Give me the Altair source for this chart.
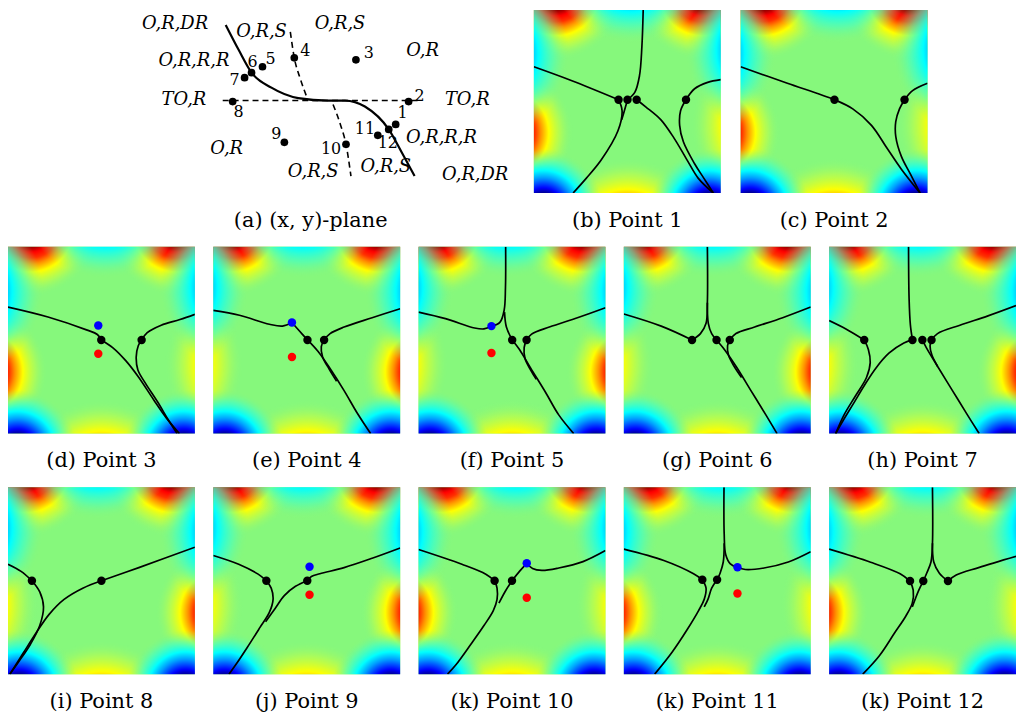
import altair as alt
import pandas as pd

SERIF = "DejaVu Serif"
GREEN = "#86f87c"
W = 188          # heat-map panel width
H_TOP = 184      # first-row panel height
H_LOW = 188      # other rows
W_A = 509        # (x, y)-plane panel width

# ---------------- (a) (x, y)-plane ----------------
A_SOLID_X = [-10.3, -9.0, -7.7, -5.7, -3.0, 0.0, 1.7, 3.7, 6.1, 7.4, 8.7]
A_SOLID_Y = [7.6, 5.1, 2.8, 1.3, 0.25, 0.0, 0.0, -0.6, -2.9, -5.2, -7.6]

A_DASH_ID = ["h", "h", "u", "u", "u", "u", "l", "l", "l", "l"]
A_DASH_X = [-10.6, 9.2, -3.8, -3.4, -2.8, -2.2, 0.5, 1.3, 1.8, 2.3]
A_DASH_Y = [0.0, 0.0, 6.9, 4.3, 2.2, 0.5, -0.4, -2.6, -4.4, -7.6]

A_PT_ID = ["1", "2", "3", "4", "5", "6", "7", "8", "9", "10", "11", "12"]
A_PT_X = [6.8, 8.1, 2.8, -3.4, -6.6, -7.7, -8.4, -9.6, -4.4, 1.8, 5.0, 6.1]
A_PT_Y = [-2.4, -0.1, 4.1, 4.3, 3.4, 2.8, 2.3, -0.1, -4.2, -4.4, -3.5, -2.9]
A_LAB_X = [7.5, 9.2, 4.1, -2.3, -5.8, -7.6, -9.4, -9.0, -5.2, 0.3, 3.7, 6.0]
A_LAB_Y = [-1.3, 0.5, 4.8, 5.0, 4.2, 3.9, 2.1, -1.2, -3.4, -4.9, -2.9, -4.3]

A_REG_TEXT = ["O,R,DR", "O,R,S", "O,R,S", "O,R", "O,R,R,R", "TO,R", "TO,R",
              "O,R", "O,R,R,R", "O,R,S", "O,R,S", "O,R,DR"]
A_REG_X = [-15.4, -6.7, 1.2, 9.5, -13.5, -14.5, 14.0, -10.2, 11.4, -1.5, 5.8, 14.8]
A_REG_Y = [7.7, 6.9, 7.7, 5.0, 4.0, 0.1, 0.1, -4.9, -3.8, -7.2, -6.7, -7.5]

# ---------------- background field (hot / cold spots) ----------------
BLOB_KIND = ["hot", "hot", "hot", "hot", "hot", "cold", "cold", "cold", "cold", "cold"]
BLOB_U = [0.12, 0.90, -0.15, 1.30, 0.50, 0.05, 0.94, 0.52, -0.27, 1.27]
BLOB_V = [-0.095, -0.095, 0.67, 0.63, 1.28, 1.085, 1.085, -0.29, 0.24, 0.22]
BLOB_R = [0.36, 0.36, 0.36, 0.46, 0.46, 0.32, 0.32, 0.46, 0.46, 0.46]

GRAD_OFFSETS = [0.0, 0.259, 0.345, 0.431, 0.517, 0.638, 0.81, 1.0]
HOT_COLORS = ["#700000", "#900000", "#ff0000", "#ff3000", "#ff9000", "#ffff00",
              "rgba(200,255,64,0.6)", "rgba(134,248,124,0)"]
COLD_COLORS = ["#00006a", "#00008f", "#0000ff", "#0050ff", "#00a0ff", "#00ffff",
               "rgba(64,255,200,0.6)", "rgba(134,248,124,0)"]

# ---------------- panels ----------------
P1_CURVES = [
    [(0, 0.31), (0.2, 0.385), (0.453, 0.49)],
    [(0.585, 0), (0.578, 0.2), (0.565, 0.36), (0.54, 0.45), (0.501, 0.49)],
    [(0.453, 0.49), (0.472, 0.55), (0.45, 0.66), (0.36, 0.82), (0.28, 0.92), (0.21, 1.0)],
    [(0.501, 0.49), (0.49, 0.53), (0.47, 0.6)],
    [(0.55, 0.49), (0.6, 0.53), (0.68, 0.6), (0.75, 0.7), (0.82, 0.82), (0.88, 0.92), (0.96, 1.0)],
    [(0.814, 0.49), (0.86, 0.43), (0.93, 0.395), (1.0, 0.38)],
    [(0.814, 0.49), (0.785, 0.55), (0.78, 0.63), (0.8, 0.72), (0.86, 0.84), (0.91, 0.92), (0.96, 1.0)],
]
P1_DOTS = [(0.453, 0.49, "black"), (0.501, 0.49, "black"), (0.55, 0.49, "black"), (0.814, 0.49, "black")]

P2_CURVES = [
    [(0, 0.31), (0.25, 0.4), (0.502, 0.49), (0.6, 0.54), (0.7, 0.63), (0.78, 0.75), (0.86, 0.87), (0.96, 1.0)],
    [(0.877, 0.49), (0.92, 0.44), (1.0, 0.40)],
    [(0.877, 0.49), (0.85, 0.54), (0.83, 0.61), (0.83, 0.69), (0.86, 0.8), (0.91, 0.9), (0.96, 1.0)],
]
P2_DOTS = [(0.502, 0.49, "black"), (0.877, 0.49, "black")]

P3_CURVES = [
    [(0, 0.323), (0.214, 0.376), (0.42, 0.445), (0.478, 0.47), (0.499, 0.499)],
    [(0.499, 0.499), (0.56, 0.54), (0.63, 0.61), (0.7, 0.7), (0.78, 0.82), (0.85, 0.92), (0.917, 1.0)],
    [(0.715, 0.499), (0.745, 0.46), (0.82, 0.42), (0.92, 0.39), (1.0, 0.362)],
    [(0.715, 0.499), (0.697, 0.53), (0.686, 0.59), (0.695, 0.66), (0.735, 0.73), (0.8, 0.83), (0.86, 0.93), (0.905, 1.0)],
]
P3_DOTS = [(0.499, 0.499, "black"), (0.715, 0.499, "black"), (0.483, 0.422, "blue"), (0.483, 0.573, "red")]

P4_CURVES = [
    [(0, 0.341), (0.14, 0.367), (0.3, 0.415), (0.37, 0.425), (0.421, 0.406)],
    [(0.421, 0.406), (0.46, 0.45), (0.504, 0.499)],
    [(0.504, 0.499), (0.56, 0.56), (0.63, 0.66), (0.7, 0.77), (0.77, 0.89), (0.842, 1.0)],
    [(0.593, 0.499), (0.625, 0.465), (0.7, 0.43), (0.85, 0.38), (1.0, 0.332)],
    [(0.593, 0.499), (0.578, 0.535), (0.585, 0.59), (0.62, 0.655), (0.66, 0.72)],
]
P4_DOTS = [(0.504, 0.499, "black"), (0.593, 0.499, "black"), (0.421, 0.406, "blue"), (0.421, 0.59, "red")]

P5_CURVES = [
    [(0, 0.35), (0.144, 0.385), (0.3, 0.435), (0.35, 0.44), (0.39, 0.425)],
    [(0.466, 0), (0.465, 0.22), (0.458, 0.34), (0.435, 0.405), (0.39, 0.425)],
    [(0.46, 0.35), (0.47, 0.43), (0.501, 0.499)],
    [(0.501, 0.499), (0.54, 0.55), (0.6, 0.65), (0.68, 0.78), (0.75, 0.9), (0.83, 1.0)],
    [(0.578, 0.499), (0.605, 0.468), (0.7, 0.43), (0.85, 0.38), (1.0, 0.327)],
    [(0.578, 0.499), (0.565, 0.54), (0.57, 0.6), (0.6, 0.66), (0.63, 0.71)],
]
P5_DOTS = [(0.501, 0.499, "black"), (0.578, 0.499, "black"), (0.39, 0.425, "blue"), (0.39, 0.569, "red")]

P6_CURVES = [
    [(0, 0.36), (0.2, 0.425), (0.365, 0.499)],
    [(0.447, 0), (0.447, 0.3), (0.44, 0.41), (0.41, 0.465), (0.365, 0.499)],
    [(0.447, 0.3), (0.452, 0.41), (0.47, 0.465), (0.496, 0.499)],
    [(0.496, 0.499), (0.53, 0.54), (0.6, 0.64), (0.68, 0.77), (0.76, 0.9), (0.82, 1.0)],
    [(0.567, 0.499), (0.6, 0.465), (0.7, 0.43), (0.85, 0.38), (1.0, 0.323)],
    [(0.567, 0.499), (0.555, 0.53), (0.56, 0.58), (0.59, 0.64), (0.63, 0.7)],
]
P6_DOTS = [(0.365, 0.499, "black"), (0.496, 0.499, "black"), (0.567, 0.499, "black")]

P7_CURVES = [
    [(0, 0.395), (0.09, 0.44), (0.188, 0.499)],
    [(0.188, 0.499), (0.21, 0.55), (0.22, 0.62), (0.2, 0.7), (0.14, 0.8), (0.08, 0.9), (0.035, 1.0)],
    [(0.446, 0.499), (0.4, 0.515), (0.32, 0.57), (0.25, 0.65), (0.19, 0.74), (0.13, 0.84), (0.075, 0.93), (0.035, 1.0)],
    [(0.425, 0), (0.428, 0.28), (0.435, 0.42), (0.446, 0.499)],
    [(0.499, 0.499), (0.52, 0.54), (0.58, 0.64), (0.66, 0.77), (0.74, 0.9), (0.803, 1.0)],
    [(0.548, 0.499), (0.58, 0.465), (0.7, 0.42), (0.85, 0.37), (1.0, 0.315)],
    [(0.548, 0.499), (0.54, 0.53), (0.55, 0.58), (0.58, 0.64)],
]
P7_DOTS = [(0.188, 0.499, "black"), (0.446, 0.499, "black"), (0.499, 0.499, "black"), (0.548, 0.499, "black")]

P8_CURVES = [
    [(0, 0.412), (0.07, 0.45), (0.128, 0.5)],
    [(0.128, 0.5), (0.17, 0.56), (0.19, 0.64), (0.17, 0.74), (0.12, 0.84), (0.06, 0.93), (0.01, 1.0)],
    [(0.5, 0.5), (0.7, 0.43), (1.0, 0.321)],
    [(0.5, 0.5), (0.4, 0.54), (0.3, 0.6), (0.22, 0.68), (0.15, 0.78), (0.08, 0.89), (0.01, 1.0)],
]
P8_DOTS = [(0.128, 0.5, "black"), (0.5, 0.5, "black")]

P9_CURVES = [
    [(0, 0.365), (0.136, 0.412), (0.24, 0.465), (0.284, 0.5)],
    [(0.284, 0.5), (0.31, 0.54), (0.32, 0.6), (0.3, 0.67), (0.25, 0.75), (0.18, 0.86), (0.12, 0.95), (0.084, 1.0)],
    [(0.503, 0.5), (0.525, 0.478), (0.57, 0.463), (0.7, 0.43), (0.85, 0.38), (1.0, 0.325)],
    [(0.503, 0.5), (0.44, 0.53), (0.38, 0.58), (0.33, 0.65), (0.28, 0.72)],
]
P9_DOTS = [(0.284, 0.5, "black"), (0.503, 0.5, "black"), (0.515, 0.425, "blue"), (0.515, 0.575, "red")]

P10_CURVES = [
    [(0, 0.333), (0.232, 0.412), (0.36, 0.465), (0.407, 0.5)],
    [(0.407, 0.5), (0.42, 0.54), (0.42, 0.6), (0.4, 0.66), (0.35, 0.74), (0.28, 0.84), (0.2, 0.95), (0.155, 1.0)],
    [(0.5, 0.5), (0.54, 0.45), (0.579, 0.407)],
    [(0.579, 0.407), (0.61, 0.435), (0.66, 0.445), (0.75, 0.432), (0.88, 0.398), (1.0, 0.339)],
    [(0.5, 0.5), (0.465, 0.555), (0.43, 0.62)],
]
P10_DOTS = [(0.407, 0.5, "black"), (0.5, 0.5, "black"), (0.579, 0.407, "blue"), (0.579, 0.591, "red")]

P11_CURVES = [
    [(0, 0.331), (0.214, 0.392), (0.373, 0.463), (0.42, 0.495)],
    [(0.536, 0), (0.537, 0.25), (0.545, 0.36), (0.57, 0.41), (0.608, 0.428)],
    [(0.537, 0.3), (0.532, 0.4), (0.515, 0.46), (0.499, 0.495)],
    [(0.608, 0.428), (0.65, 0.44), (0.75, 0.432), (0.88, 0.4), (1.0, 0.345)],
    [(0.42, 0.495), (0.44, 0.54), (0.43, 0.6), (0.4, 0.66), (0.34, 0.76), (0.26, 0.88), (0.165, 1.0)],
    [(0.499, 0.495), (0.47, 0.54), (0.45, 0.6), (0.43, 0.64)],
]
P11_DOTS = [(0.42, 0.495, "black"), (0.499, 0.495, "black"), (0.608, 0.428, "blue"), (0.608, 0.569, "red")]

P12_CURVES = [
    [(0, 0.331), (0.222, 0.401), (0.38, 0.463), (0.433, 0.502)],
    [(0.553, 0), (0.553, 0.3), (0.545, 0.4), (0.522, 0.46), (0.504, 0.502)],
    [(0.553, 0.3), (0.56, 0.4), (0.59, 0.46), (0.636, 0.502)],
    [(0.636, 0.502), (0.68, 0.47), (0.8, 0.43), (1.0, 0.37)],
    [(0.433, 0.502), (0.45, 0.55), (0.445, 0.62), (0.41, 0.69), (0.35, 0.78), (0.27, 0.9), (0.18, 1.0)],
    [(0.504, 0.502), (0.48, 0.55), (0.46, 0.6), (0.445, 0.64)],
]
P12_DOTS = [(0.433, 0.502, "black"), (0.504, 0.502, "black"), (0.636, 0.502, "black")]

PANEL_TITLES = ["(b) Point 1", "(c) Point 2", "(d) Point 3", "(e) Point 4", "(f) Point 5",
                "(g) Point 6", "(h) Point 7", "(i) Point 8", "(j) Point 9",
                "(k) Point 10", "(k) Point 11", "(k) Point 12"]
PANEL_PATTERN = ["L", "L", "L", "R", "R", "R", "R", "R", "R", "L", "L", "L"]
PANEL_CURVES = [P1_CURVES, P2_CURVES, P3_CURVES, P4_CURVES, P5_CURVES, P6_CURVES,
                P7_CURVES, P8_CURVES, P9_CURVES, P10_CURVES, P11_CURVES, P12_CURVES]
PANEL_DOTS = [P1_DOTS, P2_DOTS, P3_DOTS, P4_DOTS, P5_DOTS, P6_DOTS,
              P7_DOTS, P8_DOTS, P9_DOTS, P10_DOTS, P11_DOTS, P12_DOTS]


def radial(colors):
    return {"gradient": "radial", "x1": 0.5, "y1": 0.5, "r1": 0,
            "x2": 0.5, "y2": 0.5, "r2": 0.5,
            "stops": [{"offset": o, "color": c} for o, c in zip(GRAD_OFFSETS, colors)]}


GRADS = {"hot": radial(HOT_COLORS), "cold": radial(COLD_COLORS)}


def caption(text, dx=0):
    return alt.TitleParams(text=text, orient="bottom", font=SERIF, fontSize=21,
                           fontWeight="normal", color="black", offset=17,
                           anchor="middle", dx=dx)


def heat_panel(k, H):
    xs = alt.Scale(domain=[0, 1], nice=False, zero=False)
    ys = alt.Scale(domain=[0, 1], nice=False, zero=False, reverse=True)
    mirror = PANEL_PATTERN[k] == "R"
    rows = []
    for kind, u, v, r in zip(BLOB_KIND, BLOB_U, BLOB_V, BLOB_R):
        uu = 1 - u if mirror else u
        ry = r * W / H
        rows.append({"kind": kind, "x0": uu - r, "x1": uu + r, "y0": v - ry, "y1": v + ry})
    bdf = pd.DataFrame(rows)
    layers = []
    for kind in ["hot", "cold"]:
        layers.append(
            alt.Chart(bdf).transform_filter(alt.datum.kind == kind)
            .mark_rect(fill=GRADS[kind], clip=True)
            .encode(x=alt.X("x0:Q", scale=xs, axis=None), x2="x1:Q",
                    y=alt.Y("y0:Q", scale=ys, axis=None), y2="y1:Q"))
    cdf = pd.DataFrame([{"cid": c, "i": i, "u": p[0], "v": p[1]}
                        for c, pts in enumerate(PANEL_CURVES[k]) for i, p in enumerate(pts)])
    layers.append(
        alt.Chart(cdf).mark_line(color="black", strokeWidth=1.7,
                                 interpolate="catmull-rom", clip=True)
        .encode(x=alt.X("u:Q", scale=xs, axis=None), y=alt.Y("v:Q", scale=ys, axis=None),
                detail="cid:N", order="i:Q"))
    ddf = pd.DataFrame([{"u": d[0], "v": d[1], "col": d[2]} for d in PANEL_DOTS[k]])
    layers.append(
        alt.Chart(ddf).mark_circle(size=72, opacity=1)
        .encode(x=alt.X("u:Q", scale=xs, axis=None), y=alt.Y("v:Q", scale=ys, axis=None),
                color=alt.Color("col:N", scale=None)))
    return alt.layer(*layers).properties(
        width=W, height=H, title=caption(PANEL_TITLES[k]),
        view=alt.ViewBackground(fill=GREEN, stroke=None))


def plane_panel(H):
    xs = alt.Scale(domain=[-32.2, 18.7], nice=False, zero=False)
    ys = alt.Scale(domain=[-9.3, 9.1], nice=False, zero=False)
    X = lambda f: alt.X(f, scale=xs, axis=None)
    Y = lambda f: alt.Y(f, scale=ys, axis=None)
    solid = pd.DataFrame({"x": A_SOLID_X, "y": A_SOLID_Y, "i": list(range(len(A_SOLID_X)))})
    dash = pd.DataFrame({"id": A_DASH_ID, "x": A_DASH_X, "y": A_DASH_Y,
                         "i": list(range(len(A_DASH_X)))})
    pts = pd.DataFrame({"t": A_PT_ID, "x": A_PT_X, "y": A_PT_Y, "lx": A_LAB_X, "ly": A_LAB_Y})
    reg = pd.DataFrame({"t": A_REG_TEXT, "x": A_REG_X, "y": A_REG_Y})
    l_solid = alt.Chart(solid).mark_line(color="black", strokeWidth=2.2, interpolate="monotone").encode(
        x=X("x:Q"), y=Y("y:Q"), order="i:Q")
    l_dash = alt.Chart(dash).mark_line(color="black", strokeWidth=1.6, strokeDash=[6, 4],
                                       interpolate="monotone").encode(
        x=X("x:Q"), y=Y("y:Q"), detail="id:N", order="i:Q")
    l_pts = alt.Chart(pts).mark_circle(size=60, color="black", opacity=1).encode(x=X("x:Q"), y=Y("y:Q"))
    l_lab = alt.Chart(pts).mark_text(font=SERIF, fontSize=16, color="black").encode(
        x=X("lx:Q"), y=Y("ly:Q"), text="t:N")
    l_reg = alt.Chart(reg).mark_text(font=SERIF, fontSize=18, fontStyle="italic", color="black").encode(
        x=X("x:Q"), y=Y("y:Q"), text="t:N")
    return alt.layer(l_dash, l_solid, l_pts, l_lab, l_reg).properties(
        width=W_A, height=H, title=caption("(a) (x, y)-plane", dx=50))


row1 = alt.hconcat(plane_panel(H_TOP), heat_panel(0, H_TOP), heat_panel(1, H_TOP), spacing=20)
row2 = alt.hconcat(*[heat_panel(k, H_LOW) for k in range(2, 7)], spacing=18.5)
row3 = alt.hconcat(*[heat_panel(k, H_LOW) for k in range(7, 12)], spacing=18.5)

chart = alt.vconcat(row1, row2, row3, spacing=16).properties(
    padding=0, background="white"
).configure_view(stroke=None)

chart.save("out.html", embed_options={"renderer": "svg", "actions": False})
